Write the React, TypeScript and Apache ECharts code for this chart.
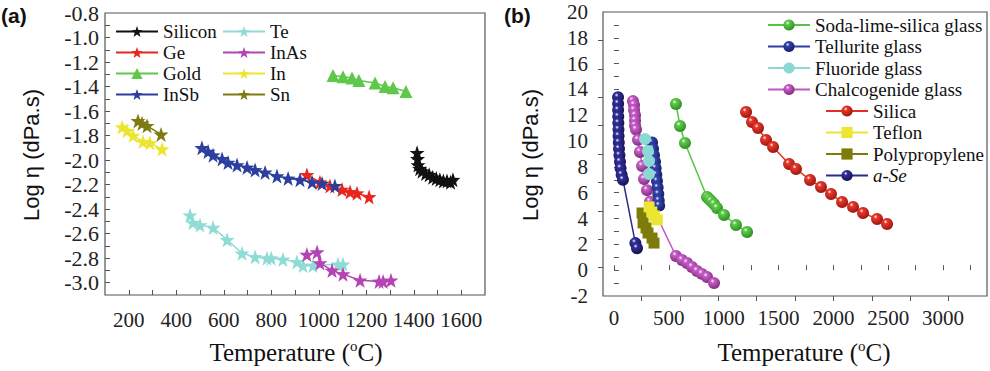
import React, { useEffect, useRef } from 'react';
import * as echarts from 'echarts';

// ---------- Panel (a) data: [Temperature (°C), Log η] ----------
const siliconData = [[1414, -1.94], [1416, -1.99], [1418, -2.04], [1425, -2.07], [1435, -2.09], [1450, -2.11], [1465, -2.12], [1480, -2.14], [1495, -2.15], [1510, -2.16], [1525, -2.17], [1540, -2.17], [1555, -2.18], [1565, -2.16]];
const geData = [[950, -2.12], [1005, -2.18], [1047, -2.21], [1098, -2.24], [1132, -2.26], [1161, -2.27], [1212, -2.30]];
const goldData = [[1060, -1.31], [1102, -1.32], [1140, -1.33], [1169, -1.35], [1237, -1.37], [1279, -1.40], [1313, -1.41], [1367, -1.44]];
const insbData = [[508, -1.90], [534, -1.93], [555, -1.96], [593, -1.99], [618, -2.02], [656, -2.04], [698, -2.06], [732, -2.08], [774, -2.10], [824, -2.13], [871, -2.15], [921, -2.16], [972, -2.18], [1014, -2.19], [1068, -2.21]];
const teData = [[458, -2.45], [470, -2.51], [500, -2.53], [555, -2.55], [614, -2.65], [677, -2.76], [732, -2.79], [782, -2.80], [800, -2.80], [849, -2.81], [908, -2.83], [934, -2.86], [976, -2.86], [1081, -2.85], [1102, -2.85]];
const inasData = [[950, -2.77], [993, -2.75], [1005, -2.84], [1056, -2.90], [1102, -2.93], [1174, -2.98], [1254, -2.99], [1271, -2.99], [1304, -2.98]];
const inData = [[172, -1.73], [193, -1.76], [218, -1.80], [260, -1.85], [289, -1.86], [340, -1.91]];
const snData = [[239, -1.68], [256, -1.70], [277, -1.72], [336, -1.79]];

// ---------- Panel (b) data ----------
const sodaData = [[565, 12.87], [602, 11.17], [647, 9.85], [848, 5.67], [866, 5.52], [885, 5.36], [912, 5.13], [939, 4.82], [1003, 4.28], [1112, 3.50], [1213, 2.96]];
const telluriteData = [[347, 9.9], [356, 9.4], [365, 8.9], [374, 8.4], [380, 7.9], [386, 7.4], [392, 6.9], [398, 6.4], [404, 5.9], [408, 5.4], [412, 5.0]];
const fluorideData = [[283, 10.16], [310, 9.23], [319, 8.46], [319, 7.45]];
const chalcoData = [[173, 13.1], [183, 12.8], [183, 12.4], [192, 12.0], [192, 11.6], [192, 11.2], [201, 10.9], [219, 10.1], [237, 9.16], [256, 8.07], [274, 7.06], [301, 6.2], [328, 5.3], [565, 1.1], [620, 0.79], [666, 0.56], [711, 0.25], [757, -0.06], [802, -0.29], [848, -0.53], [912, -1.0]];
const silicaData = [[1204, 12.25], [1258, 11.48], [1313, 11.01], [1386, 10.09], [1450, 9.54], [1596, 8.23], [1659, 7.84], [1787, 6.99], [1887, 6.44], [1978, 5.90], [2079, 5.28], [2179, 4.90], [2270, 4.43], [2398, 3.97], [2489, 3.58]];
const teflonData = [[320, 4.9], [345, 4.5], [370, 4.2], [395, 3.9]];
const polyData = [[256, 4.43], [265, 3.66], [292, 3.27], [310, 2.88], [347, 2.49], [365, 2.1]];
const aseData = [[37, 13.4], [38, 12.9], [38, 12.4], [39, 11.9], [40, 11.4], [41, 10.9], [42, 10.4], [44, 9.9], [46, 9.4], [50, 8.9], [55, 8.4], [60, 7.9], [70, 7.4], [82, 7.0], [195, 2.1], [210, 1.7]];

// ---------- Names / ticks ----------
const leftNamesCol1 = ['Silicon', 'Ge', 'Gold', 'InSb'];
const leftNamesCol2 = ['Te', 'InAs', 'In', 'Sn'];
const rightNamesCol1 = ['Soda-lime-silica glass', 'Tellurite glass', 'Fluoride glass', 'Chalcogenide glass'];
const rightNamesCol2 = ['Silica', 'Teflon', 'Polypropylene', 'a-Se'];

const range = (a: number, b: number, step: number) => {
  const out: number[] = [];
  for (let i = 0; a + i * step <= b + 1e-9; i++) out.push(+(a + i * step).toFixed(4));
  return out;
};

const leftXTicks = range(200, 1600, 100);
const leftXLabels = range(200, 1600, 200);
const leftYTicks = range(-3.0, -0.9, 0.1);
const leftYLabels = range(-3.0, -0.8, 0.2);
const rightXTicks = range(0, 3250, 250);
const rightXLabels = range(0, 3000, 500);
const rightYTicks = range(-1, 19, 1);
const rightYLabels = range(-2, 20, 2);
const frameTicks = range(1, 9, 1);

const SERIF = 'Liberation Serif';
const SANS = 'Liberation Sans';
const STAR = 'path://M50,0 L61.8,33.8 L97.6,34.5 L69,56.2 L79.4,90.5 L50,70 L20.6,90.5 L31,56.2 L2.4,34.5 L38.2,33.8 Z';
const AXIS_COLOR = '#555';

const ball = (base: string, dark: string) => ({
  type: 'radial', x: 0.38, y: 0.32, r: 0.72,
  colorStops: [
    { offset: 0, color: '#ffffff' },
    { offset: 0.22, color: base },
    { offset: 1, color: dark },
  ],
});

const leftDefs = [
  { name: 'Silicon', data: siliconData, color: '#111111', symbol: STAR, size: 15 },
  { name: 'Ge', data: geData, color: '#e8261e', symbol: STAR, size: 15 },
  { name: 'Gold', data: goldData, color: '#5ec84a', symbol: 'triangle', size: 13 },
  { name: 'InSb', data: insbData, color: '#2c3f9e', symbol: STAR, size: 15 },
  { name: 'Te', data: teData, color: '#8fdcd6', symbol: STAR, size: 15 },
  { name: 'InAs', data: inasData, color: '#b444b4', symbol: STAR, size: 15 },
  { name: 'In', data: inData, color: '#ece632', symbol: STAR, size: 15 },
  { name: 'Sn', data: snData, color: '#7f7a12', symbol: STAR, size: 15 },
];

const rightDefs = [
  { name: 'Chalcogenide glass', data: chalcoData, color: '#c257c2', fill: ball('#c95ec9', '#7a2a7a'), symbol: 'circle', size: 12 },
  { name: 'Tellurite glass', data: telluriteData, color: '#2e3ea6', fill: ball('#3444ae', '#131b5e'), symbol: 'circle', size: 12 },
  { name: 'Fluoride glass', data: fluorideData, color: '#8ad9d3', fill: '#8ad9d3', symbol: 'circle', size: 12 },
  { name: 'Polypropylene', data: polyData, color: '#7e7c08', fill: '#7e7c08', symbol: 'rect', size: 11 },
  { name: 'Teflon', data: teflonData, color: '#ece632', fill: '#ece632', symbol: 'rect', size: 11 },
  { name: 'a-Se', data: aseData, color: '#2c2a8c', fill: ball('#33309a', '#12104a'), symbol: 'circle', size: 12 },
  { name: 'Soda-lime-silica glass', data: sodaData, color: '#56c443', fill: ball('#5ecc4a', '#2c8a20'), symbol: 'circle', size: 12 },
  { name: 'Silica', data: silicaData, color: '#e22f25', fill: ball('#e8382c', '#96140e'), symbol: 'circle', size: 12 },
];

const legendBase = {
  orient: 'vertical',
  itemWidth: 42,
  itemHeight: 14,
  padding: 0,
  selectedMode: false,
  textStyle: {
    fontFamily: SERIF, fontSize: 19, color: '#111', lineHeight: 19,
    rich: { i: { fontFamily: SERIF, fontSize: 19, fontStyle: 'italic', color: '#111', lineHeight: 19 } },
  },
  formatter: (n: string) => (n === 'a-Se' ? '{i|a-Se}' : n),
};

const tickStyle = { inside: true, length: 5, lineStyle: { color: AXIS_COLOR, width: 1 } };
const labelStyle = { fontFamily: SERIF, fontSize: 21, color: '#222' };
const intLabel = (v: number) => String(Math.round(v));

export default function App() {
  const ref = useRef<HTMLDivElement>(null);
  useEffect(() => {
    const chart = echarts.init(ref.current!, null, { renderer: 'svg' });
    const option: any = {
      animation: false,
      backgroundColor: '#ffffff',
      textStyle: { fontFamily: SERIF },
      grid: [
        { left: 105, top: 13, width: 380, height: 282, show: true, borderColor: AXIS_COLOR, borderWidth: 1.2, backgroundColor: 'transparent', outerBoundsMode: 'none' },
        { left: 603, top: 12, width: 384, height: 284, show: true, borderColor: AXIS_COLOR, borderWidth: 1.2, backgroundColor: 'transparent', outerBoundsMode: 'none' },
      ],
      xAxis: [
        {
          gridIndex: 0, type: 'value', min: 100, max: 1700, position: 'bottom',
          axisLine: { show: false }, splitLine: { show: false },
          axisTick: { ...tickStyle, customValues: leftXTicks },
          axisLabel: { ...labelStyle, margin: 14, customValues: leftXLabels, formatter: intLabel },
        },
        {
          gridIndex: 1, type: 'value', min: -100, max: 3400, position: 'bottom',
          axisLine: { show: false }, splitLine: { show: false },
          axisTick: { ...tickStyle, customValues: rightXTicks },
          axisLabel: { ...labelStyle, margin: 11, customValues: rightXLabels, formatter: intLabel },
        },
        {
          gridIndex: 1, type: 'value', min: 0, max: 10, position: 'top',
          axisLine: { show: false }, splitLine: { show: false },
          axisTick: { ...tickStyle, customValues: frameTicks },
          axisLabel: { show: false },
        },
      ],
      yAxis: [
        {
          gridIndex: 0, type: 'value', min: -3.1, max: -0.8, position: 'left',
          axisLine: { show: false }, splitLine: { show: false },
          axisTick: { ...tickStyle, customValues: leftYTicks },
          axisLabel: { ...labelStyle, fontSize: 22, margin: 6, customValues: leftYLabels, formatter: (v: number) => v.toFixed(1) },
        },
        {
          gridIndex: 1, type: 'value', min: -2, max: 20, position: 'left',
          axisLine: { show: false }, splitLine: { show: false },
          axisTick: { ...tickStyle, customValues: rightYTicks },
          axisLabel: { ...labelStyle, fontSize: 21, margin: 15, customValues: rightYLabels, formatter: intLabel },
        },
        {
          gridIndex: 1, type: 'value', min: 0, max: 10, position: 'right',
          axisLine: { show: false }, splitLine: { show: false },
          axisTick: { ...tickStyle, customValues: frameTicks },
          axisLabel: { show: false },
        },
      ],
      legend: [
        { ...legendBase, data: leftNamesCol1, left: 115, top: 22, itemGap: 2 },
        { ...legendBase, data: leftNamesCol2, left: 222, top: 22, itemGap: 2 },
        { ...legendBase, data: rightNamesCol1, left: 767, top: 15.5, itemGap: 2.5 },
        { ...legendBase, data: rightNamesCol2, left: 825, top: 101.5, itemGap: 2.5 },
      ],
      series: [
        ...leftDefs.map((d) => ({
          type: 'line', name: d.name, data: d.data, xAxisIndex: 0, yAxisIndex: 0,
          symbol: d.symbol, symbolSize: d.size, showSymbol: true,
          lineStyle: { color: d.color, width: 1.5 },
          itemStyle: { color: d.color },
        })),
        ...rightDefs.map((d) => ({
          type: 'line', name: d.name, data: d.data, xAxisIndex: 1, yAxisIndex: 1,
          symbol: d.symbol, symbolSize: d.size, showSymbol: true,
          lineStyle: { color: d.color, width: 1.5 },
          itemStyle: { color: d.fill },
        })),
      ],
      graphic: [
        { type: 'text', x: 1, y: 15, style: { text: '(a)', fontFamily: SANS, fontWeight: 'bold', fontSize: 21, fill: '#111', textAlign: 'left', textVerticalAlign: 'middle' } },
        { type: 'text', x: 504, y: 15, style: { text: '(b)', fontFamily: SANS, fontWeight: 'bold', fontSize: 21, fill: '#111', textAlign: 'left', textVerticalAlign: 'middle' } },
        { type: 'text', x: 31, y: 155, rotation: Math.PI / 2, style: { text: 'Log η (dPa.s)', fontFamily: SANS, fontSize: 22, fill: '#111', textAlign: 'center', textVerticalAlign: 'middle' } },
        { type: 'text', x: 530, y: 155, rotation: Math.PI / 2, style: { text: 'Log η (dPa.s)', fontFamily: SANS, fontSize: 22, fill: '#111', textAlign: 'center', textVerticalAlign: 'middle' } },
        {
          type: 'text', x: 296, y: 352,
          style: {
            text: 'Temperature ({s|o}C)', fontFamily: SERIF, fontSize: 25, fill: '#111', lineHeight: 28,
            textAlign: 'center', textVerticalAlign: 'middle',
            rich: { s: { fontFamily: SERIF, fontSize: 15, fill: '#111', verticalAlign: 'top', lineHeight: 28 } },
          },
        },
        {
          type: 'text', x: 804, y: 352,
          style: {
            text: 'Temperature ({s|o}C)', fontFamily: SERIF, fontSize: 25, fill: '#111', lineHeight: 28,
            textAlign: 'center', textVerticalAlign: 'middle',
            rich: { s: { fontFamily: SERIF, fontSize: 15, fill: '#111', verticalAlign: 'top', lineHeight: 28 } },
          },
        },
      ],
    };
    chart.setOption(option);
    return () => chart.dispose();
  }, []);
  return <div ref={ref} style={{ position: 'fixed', left: 0, top: 0, width: 990, height: 371, background: '#fff' }} />;
}
